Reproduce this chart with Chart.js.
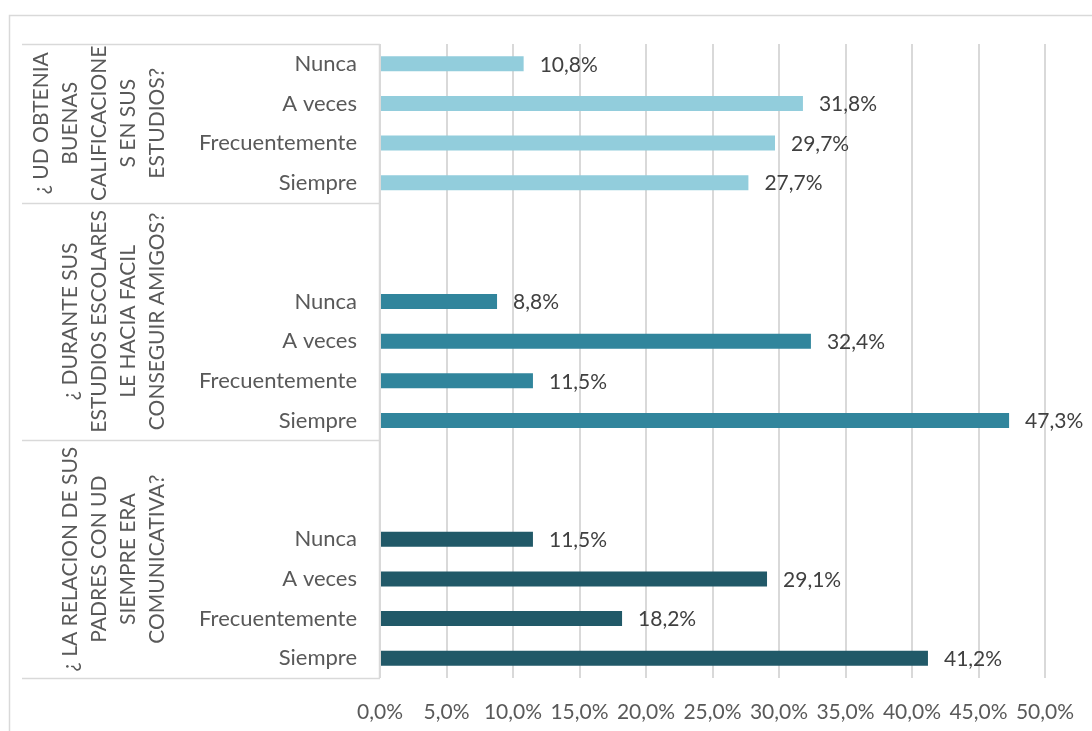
<!DOCTYPE html>
<html>
<head>
<meta charset="utf-8">
<script src="https://cdn.jsdelivr.net/npm/chart.js@4.4.0/dist/chart.umd.min.js"></script>
<style>
  body { margin: 0; background: #fff; }
  canvas { display: block; }
</style>
</head>
<body>
<canvas id="myChart" width="1092" height="731"></canvas>
<script>
// respuestas de cada pregunta (de arriba hacia abajo)
const answers = ["Nunca", "A veces", "Frecuentemente", "Siempre"];

// titulos de las preguntas, ya partidos en lineas como en el original
const questionTitles = [
  ["¿ UD OBTENIA", "BUENAS", "CALIFICACIONE", "S EN SUS", "ESTUDIOS?"],
  ["¿ DURANTE SUS", "ESTUDIOS ESCOLARES", "LE HACIA FACIL", "CONSEGUIR AMIGOS?"],
  ["¿ LA RELACION DE SUS", "PADRES CON UD", "SIEMPRE ERA", "COMUNICATIVA?"]
];

// porcentajes por pregunta
const calificaciones = [10.8, 31.8, 29.7, 27.7];
const amigos = [8.8, 32.4, 11.5, 47.3];
const padres = [11.5, 29.1, 18.2, 41.2];

// filas vacias antes de cada pregunta
const blankRows = [0, 2, 2];

const questionColors = ["#92CDDC", "#31859C", "#215968"];

const xTicks = [0, 5, 10, 15, 20, 25, 30, 35, 40, 45, 50];

// armar filas de la categoria
const allValues = [calificaciones, amigos, padres];
const labels = [];
const values = [];
const colors = [];
const groupRanges = [];
allValues.forEach(function(vals, g) {
  const start = labels.length;
  for (let i = 0; i < blankRows[g]; i++) {
    labels.push("");
    values.push(null);
    colors.push(questionColors[g]);
  }
  answers.forEach(function(a, i) {
    labels.push(a);
    values.push(vals[i]);
    colors.push(questionColors[g]);
  });
  groupRanges.push([start, labels.length - 1]);
});

function fmt(v) {
  return v.toFixed(1).replace(".", ",") + "%";
}

const FONT = "Lato";

// etiquetas de valor al final de cada barra
const valueLabels = {
  id: "valueLabels",
  afterDatasetsDraw(chart) {
    const ctx = chart.ctx;
    const meta = chart.getDatasetMeta(0);
    ctx.save();
    ctx.font = "21px " + FONT;
    ctx.fillStyle = "#404040";
    ctx.textAlign = "left";
    ctx.textBaseline = "middle";
    meta.data.forEach(function(bar, i) {
      const v = values[i];
      if (v === null) return;
      ctx.fillText(fmt(v), bar.x + 16, bar.y + 1);
    });
    ctx.restore();
  }
};

// cajas de las preguntas y borde del grafico
const questionBoxes = {
  id: "questionBoxes",
  afterDraw(chart) {
    const ctx = chart.ctx;
    const y = chart.scales.y;
    const area = chart.chartArea;
    ctx.save();
    ctx.strokeStyle = "#d9d9d9";
    ctx.lineWidth = 1.5;
    // borde exterior
    ctx.beginPath();
    ctx.moveTo(9.5, 731);
    ctx.lineTo(9.5, 15.5);
    ctx.lineTo(1092, 15.5);
    ctx.stroke();

    const bounds = [area.top];
    for (let g = 1; g < groupRanges.length; g++) {
      const a = y.getPixelForValue(groupRanges[g - 1][1]);
      const b = y.getPixelForValue(groupRanges[g][0]);
      bounds.push((a + b) / 2);
    }
    bounds.push(area.bottom);

    ctx.beginPath();
    bounds.forEach(function(b) {
      ctx.moveTo(22, Math.round(b) + 0.5);
      ctx.lineTo(area.left, Math.round(b) + 0.5);
    });
    ctx.moveTo(area.left - 0.5, area.top);
    ctx.lineTo(area.left - 0.5, area.bottom);
    ctx.stroke();

    ctx.font = "21px " + FONT;
    ctx.fillStyle = "#595959";
    ctx.textAlign = "center";
    ctx.textBaseline = "middle";
    questionTitles.forEach(function(lines, g) {
      const cy = (bounds[g] + bounds[g + 1]) / 2;
      const n = lines.length;
      lines.forEach(function(line, i) {
        const x = 157 - (n - 1 - i) * 29;
        ctx.save();
        ctx.translate(x, cy);
        ctx.rotate(-Math.PI / 2);
        ctx.fillText(line, 0, 0);
        ctx.restore();
      });
    });
    ctx.restore();
  }
};

const ctx = document.getElementById("myChart").getContext("2d");
const myChart = new Chart(ctx, {
  type: "bar",
  data: {
    labels: labels,
    datasets: [
      {
        data: values,
        backgroundColor: colors,
        borderWidth: 0,
        barPercentage: 0.38,
        categoryPercentage: 1
      }
    ]
  },
  options: {
    indexAxis: "y",
    responsive: false,
    animation: false,
    layout: {
      padding: { left: 0, top: 44, right: 47, bottom: 0 }
    },
    plugins: {
      legend: { display: false },
      tooltip: { enabled: false }
    },
    scales: {
      x: {
        min: 0,
        max: 50,
        afterBuildTicks: function(scale) {
          scale.ticks = xTicks.map(function(v) { return { value: v }; });
        },
        afterFit: function(scale) {
          scale.height = 53;
          scale.paddingLeft = 0;
          scale.paddingRight = 0;
        },
        grid: {
          color: "#d9d9d9",
          lineWidth: 2,
          drawTicks: false
        },
        border: { display: false },
        ticks: {
          padding: 22,
          color: "#595959",
          font: { family: FONT, size: 21 },
          maxRotation: 0,
          callback: function(v) { return fmt(v); }
        }
      },
      y: {
        afterFit: function(scale) {
          scale.width = 380;
        },
        grid: { display: false, drawTicks: false },
        border: { display: false },
        ticks: {
          padding: 23,
          color: "#595959",
          font: { family: FONT, size: 22 },
          autoSkip: false
        }
      }
    }
  },
  plugins: [valueLabels, questionBoxes]
});
</script>
</body>
</html>
